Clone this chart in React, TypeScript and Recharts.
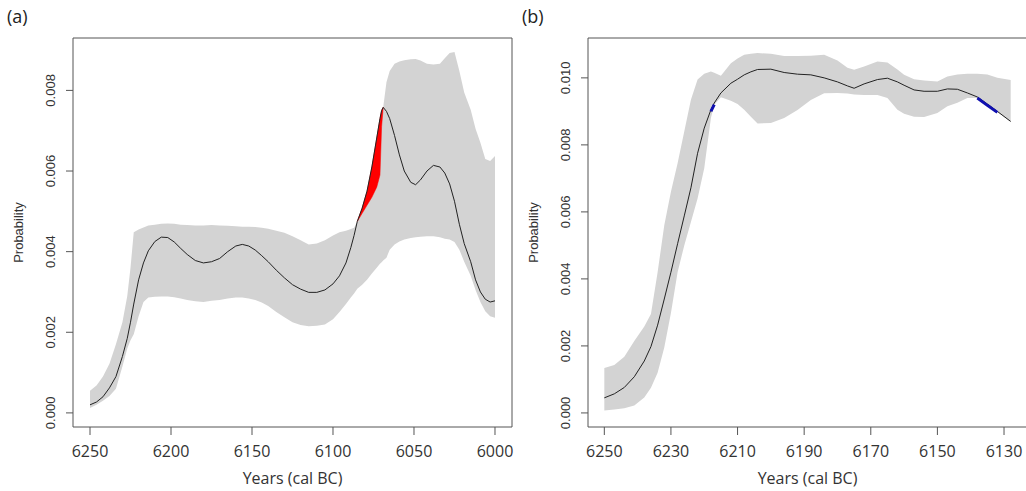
import React from 'react';
import { ComposedChart, Area, Line, XAxis, YAxis, ReferenceArea, Label } from 'recharts';

// ---- panel (a) ----
const yearsA = [
  6250, 6246, 6242, 6238, 6234, 6230, 6227, 6225, 6223, 6220, 6217, 6214, 6210, 6206, 6202, 6198, 6194, 6190,
  6185, 6180, 6175, 6170, 6165, 6160, 6156, 6152, 6148, 6144, 6140, 6135, 6130, 6125, 6120, 6115, 6110, 6105,
  6100, 6096, 6092, 6089, 6087, 6085, 6082, 6079, 6076, 6073, 6071, 6070, 6069, 6067, 6065, 6062, 6059, 6056,
  6052, 6049, 6046, 6042, 6038, 6034, 6031, 6028, 6025, 6022, 6019, 6015, 6012, 6009, 6006, 6003, 6000,
];
const meanA = [
  0.0002, 0.00027, 0.0004, 0.00062, 0.0009, 0.0014, 0.00185, 0.00225, 0.0027, 0.0033, 0.00372, 0.00402, 0.00425,
  0.00436, 0.00435, 0.00424, 0.00408, 0.00393, 0.00378, 0.00372, 0.00375, 0.00383, 0.004, 0.00414, 0.00418,
  0.00414, 0.00404, 0.0039, 0.00375, 0.00354, 0.00335, 0.00318, 0.00307, 0.00299, 0.00299, 0.00305, 0.0032,
  0.0034, 0.00372, 0.0041, 0.0044, 0.00475, 0.00508, 0.0055, 0.0061, 0.00682, 0.0073, 0.0075, 0.00758, 0.00748,
  0.0073, 0.00688, 0.0064, 0.006, 0.00572, 0.00566, 0.00578, 0.006, 0.00614, 0.0061, 0.00595, 0.00568, 0.00525,
  0.00468, 0.0042, 0.00375, 0.0033, 0.003, 0.00282, 0.00275, 0.00278,
];
const lowA = [
  0.00012, 0.0002, 0.0003, 0.00042, 0.0006, 0.00115, 0.0016, 0.0018, 0.00195, 0.0024, 0.00275, 0.00286, 0.00288,
  0.00289, 0.00289, 0.00287, 0.00284, 0.0028, 0.00277, 0.00275, 0.00278, 0.0028, 0.00284, 0.00286, 0.00286,
  0.00284, 0.0028, 0.00274, 0.00265, 0.0025, 0.00237, 0.00225, 0.00218, 0.00215, 0.00216, 0.00219, 0.00232,
  0.0025, 0.0027, 0.00286, 0.00296, 0.00308, 0.00318, 0.0033, 0.00346, 0.0036, 0.0037, 0.00374, 0.00378, 0.00385,
  0.00405, 0.00418, 0.00425, 0.0043, 0.00434, 0.00436, 0.00437, 0.00438, 0.00438, 0.00436, 0.00432, 0.0043,
  0.00424, 0.00405, 0.00375, 0.0034, 0.00305, 0.00275, 0.00252, 0.0024, 0.00236,
];
const highA = [
  0.00055, 0.00068, 0.0009, 0.00122, 0.0017, 0.00225, 0.0029, 0.0036, 0.00448, 0.00455, 0.0046, 0.00465, 0.00467,
  0.00469, 0.0047, 0.00469, 0.00467, 0.00466, 0.00465, 0.00465, 0.00466, 0.00465, 0.00464, 0.00463, 0.00462,
  0.00462, 0.00461, 0.00459, 0.00457, 0.00452, 0.00447, 0.00438, 0.00428, 0.00418, 0.0042, 0.00428, 0.0044,
  0.00448, 0.00452, 0.00456, 0.00459, 0.00475, 0.00508, 0.0055, 0.0061, 0.00682, 0.0073, 0.0075, 0.00758, 0.0082,
  0.00848, 0.00866, 0.00872, 0.00875, 0.00877, 0.00878, 0.00874, 0.00866, 0.00864, 0.00866, 0.0088, 0.00893,
  0.00895, 0.00848, 0.00795, 0.00752, 0.00705, 0.0067, 0.0063, 0.00625, 0.00637,
];
const redYearsA = [6085, 6082, 6079, 6076, 6073, 6071, 6070, 6069];
const redLowA = [0.00475, 0.00495, 0.00515, 0.00535, 0.0056, 0.0059, 0.0071, 0.00758];
const xTicksA = [6250, 6200, 6150, 6100, 6050, 6000];
const yTicksA = [0, 0.002, 0.004, 0.006, 0.008];

// ---- panel (b) ----
const yearsB = [
  6250, 6247, 6244, 6241, 6238, 6236, 6234, 6232, 6230, 6228, 6226, 6224, 6222, 6220, 6218, 6217, 6215, 6212,
  6210, 6208, 6206, 6204, 6200, 6196, 6192, 6188, 6184, 6180, 6177, 6175, 6172, 6168, 6165, 6162, 6160, 6157,
  6154, 6150, 6147, 6144, 6141, 6138, 6135, 6132, 6128,
];
const meanB = [
  0.00045, 0.00057, 0.00076, 0.00108, 0.00155, 0.00198, 0.00262, 0.0034, 0.0042, 0.00505, 0.00588, 0.00672,
  0.00775, 0.0085, 0.00905, 0.00925, 0.00955, 0.00984, 0.00996, 0.01009, 0.01018, 0.01025, 0.01026, 0.01016,
  0.01011, 0.01009, 0.01, 0.00988, 0.00976, 0.00969, 0.00982, 0.00995, 0.00999, 0.00988, 0.00978, 0.00964,
  0.0096, 0.0096, 0.00967, 0.00966, 0.00955, 0.00943, 0.00922, 0.009, 0.0087,
];
const lowB = [
  0.00007, 0.0001, 0.00014, 0.00022, 0.00046, 0.00075, 0.0012, 0.00195, 0.00298, 0.0042, 0.005, 0.0057, 0.0064,
  0.0073, 0.0088, 0.0092, 0.00942, 0.00932, 0.00922, 0.00905, 0.00884, 0.00864, 0.00865, 0.0088, 0.00904,
  0.00934, 0.00954, 0.00955, 0.00953, 0.0095, 0.00949, 0.00949, 0.0094, 0.00905, 0.00893, 0.00884, 0.00883,
  0.00895, 0.00915, 0.00926, 0.0094, 0.0094, 0.0092, 0.00898, 0.00868,
];
const highB = [
  0.00134, 0.00143, 0.00168, 0.00215, 0.00258, 0.00295, 0.0042, 0.0056, 0.0066, 0.00745, 0.0084, 0.00935,
  0.00995, 0.01012, 0.01019, 0.01015, 0.01006, 0.01044, 0.01058, 0.01069, 0.01072, 0.01074, 0.01072, 0.01065,
  0.01065, 0.01066, 0.01069, 0.01052, 0.0103, 0.01024, 0.01034, 0.01049, 0.01046, 0.01025, 0.01009, 0.00996,
  0.00992, 0.00989, 0.01004, 0.0101, 0.01012, 0.01012, 0.0101, 0.01, 0.00994,
];
const blueYearsB = [6218, 6217, 6138, 6135, 6132];
const blueB = [0.009, 0.0092, 0.0094, 0.00918, 0.00897];
const xTicksB = [6250, 6230, 6210, 6190, 6170, 6150, 6130];
const yTicksB = [0, 0.002, 0.004, 0.006, 0.008, 0.01];

const rowsA = yearsA.map((year, i) => {
  const r = redYearsA.indexOf(year);
  return {
    year,
    mean: meanA[i],
    band: [lowA[i], highA[i]],
    red: r >= 0 ? [redLowA[r], meanA[i]] : null,
  };
});

const rowsB = yearsB.map((year, i) => {
  const b = blueYearsB.indexOf(year);
  return {
    year,
    mean: meanB[i],
    band: [lowB[i], highB[i]],
    blue: b >= 0 ? blueB[b] : null,
  };
});

const axisColor = '#555';
const textColor = '#333';
const tickFont = '"Open Sans", "Noto Sans", sans-serif';
const smallFont = '"Liberation Sans", Arial, sans-serif';

// R style: tick labels turned to read upwards, baseline at bx
const RotatedTick = (props: any) => {
  const { y, payload, bx } = props;
  return (
    <text
      transform={`translate(${bx},${y}) rotate(-90)`}
      textAnchor="middle"
      fontSize={13}
      fontFamily={smallFont}
      fill={textColor}
    >
      {Number(payload.value).toFixed(3)}
    </text>
  );
};

const yTitle = (props: any) => {
  const vb = props.viewBox || { x: 0, y: 38, width: 73, height: 389 };
  const x = vb.x + vb.width - 50;
  const y = vb.y + vb.height / 2;
  return (
    <text
      transform={`translate(${x},${y}) rotate(-90)`}
      textAnchor="middle"
      fontSize={13}
      fontFamily={smallFont}
      fill={textColor}
    >
      Probability
    </text>
  );
};

interface PanelProps {
  rows: any[];
  xDomain: [number, number];
  yDomain: [number, number];
  xTicks: number[];
  yTicks: number[];
  yAxisWidth: number;
  marginRight: number;
  children?: React.ReactNode;
}

const Panel = ({ rows, xDomain, yDomain, xTicks, yTicks, yAxisWidth, marginRight, children }: PanelProps) => (
  <ComposedChart width={520} height={491} data={rows} margin={{ top: 38, right: marginRight, bottom: 0, left: 0 }}>
    <XAxis
      dataKey="year"
      type="number"
      domain={xDomain}
      reversed
      allowDataOverflow
      ticks={xTicks}
      interval={0}
      height={64}
      axisLine={false}
      tickSize={8}
      tickMargin={11}
      tickLine={{ stroke: axisColor }}
      tick={{ fontSize: 16, fill: textColor, fontFamily: tickFont }}
    >
      <Label value="Years (cal BC)" position="insideBottom" offset={7} fontSize={16} fill={textColor} fontFamily={tickFont} />
    </XAxis>
    <YAxis
      type="number"
      domain={yDomain}
      allowDataOverflow
      ticks={yTicks}
      interval={0}
      width={yAxisWidth}
      axisLine={false}
      tickSize={7}
      tickLine={{ stroke: axisColor }}
      tick={(p: any) => <RotatedTick {...p} bx={yAxisWidth - 18} />}
      label={yTitle}
    />
    <Area
      type="linear"
      dataKey="band"
      fill="#d3d3d3"
      fillOpacity={1}
      stroke="none"
      dot={false}
      activeDot={false}
      isAnimationActive={false}
    />
    {children}
    <ReferenceArea
      x1={xDomain[0]}
      x2={xDomain[1]}
      y1={yDomain[0]}
      y2={yDomain[1]}
      fill="none"
      stroke={axisColor}
      strokeWidth={1}
      ifOverflow="visible"
    />
  </ComposedChart>
);

const panelLabel: React.CSSProperties = {
  position: 'absolute',
  top: 4,
  fontSize: 18,
  fontFamily: tickFont,
  color: '#222',
};

export default function App() {
  return (
    <div style={{ position: 'absolute', left: 0, top: 0, width: 1026, height: 491, overflow: 'hidden', background: '#fff' }}>
      <div style={{ position: 'absolute', left: 0, top: 0 }}>
        <Panel
          rows={rowsA}
          xDomain={[5989.5, 6260.5]}
          yDomain={[-0.00035, 0.0093]}
          xTicks={xTicksA}
          yTicks={yTicksA}
          yAxisWidth={73}
          marginRight={8}
        >
          <Area
            type="linear"
            dataKey="red"
            fill="#ff0000"
            fillOpacity={1}
            stroke="#ff0000"
            strokeWidth={0.5}
            dot={false}
            activeDot={false}
            isAnimationActive={false}
          />
          <Line type="linear" dataKey="mean" stroke="#222" strokeWidth={1} dot={false} activeDot={false} isAnimationActive={false} />
        </Panel>
      </div>
      <div style={{ position: 'absolute', left: 510, top: 0 }}>
        <Panel
          rows={rowsB}
          xDomain={[6123.1, 6254.9]}
          yDomain={[-0.00042, 0.01119]}
          xTicks={xTicksB}
          yTicks={yTicksB}
          yAxisWidth={78}
          marginRight={3}
        >
          <Line type="linear" dataKey="mean" stroke="#222" strokeWidth={1} dot={false} activeDot={false} isAnimationActive={false} />
          <Line type="linear" dataKey="blue" stroke="#1010b0" strokeWidth={3} dot={false} activeDot={false} isAnimationActive={false} />
        </Panel>
      </div>
      <div style={{ ...panelLabel, left: 7 }}>(a)</div>
      <div style={{ ...panelLabel, left: 522 }}>(b)</div>
    </div>
  );
}
